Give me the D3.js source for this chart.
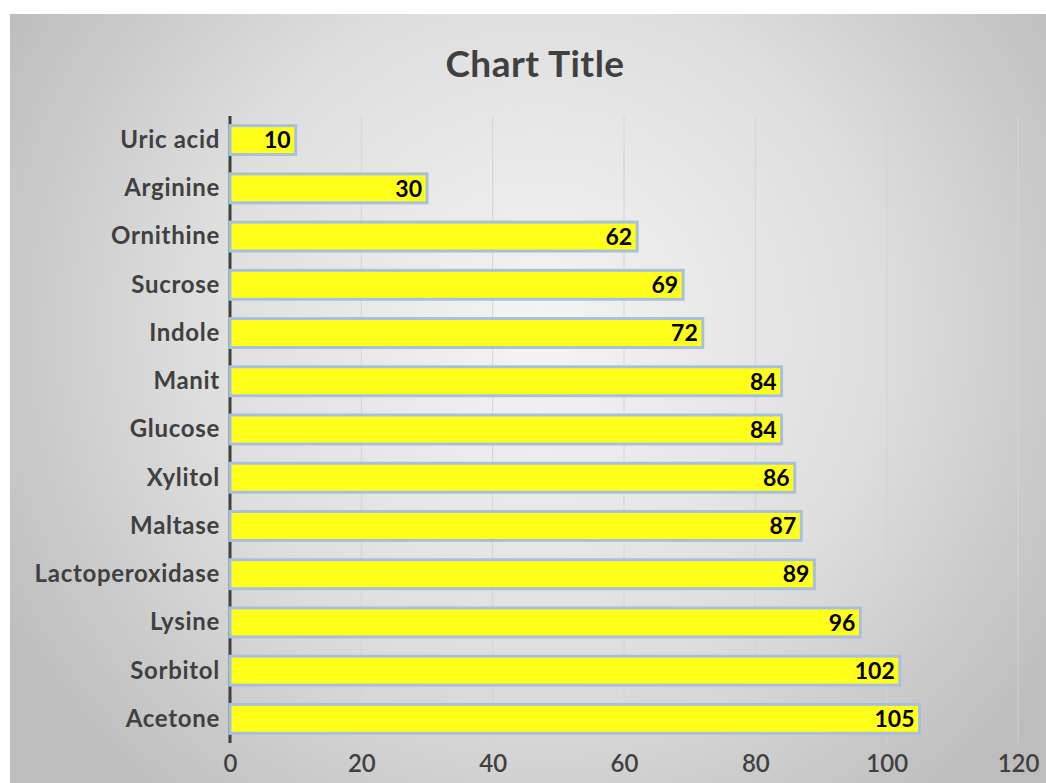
<!DOCTYPE html>
<html><head><meta charset="utf-8">
<script src="https://cdn.jsdelivr.net/npm/d3@7"></script>
<style>html,body{margin:0;padding:0;background:#fff;}svg{display:block;}</style>
</head><body>
<script>
const categories = ["Uric acid","Arginine","Ornithine","Sucrose","Indole","Manit","Glucose","Xylitol","Maltase","Lactoperoxidase","Lysine","Sorbitol","Acetone"];
const values = [10,30,62,69,72,84,84,86,87,89,96,102,105];
const xTicks = [0,20,40,60,80,100,120];
const title = "Chart Title";

const W = 1046, H = 783;
const svg = d3.select("body").append("svg").attr("width", W).attr("height", H);
const defs = svg.append("defs");
const grad = defs.append("radialGradient").attr("id","bg")
  .attr("gradientUnits","userSpaceOnUse").attr("cx",540).attr("cy",330).attr("r",620);
grad.append("stop").attr("offset","0%").attr("stop-color","#f4f4f4");
grad.append("stop").attr("offset","55%").attr("stop-color","#dedede");
grad.append("stop").attr("offset","100%").attr("stop-color","#bdbdbd");
svg.append("rect").attr("x",10).attr("y",14).attr("width",W-10).attr("height",H-14).attr("fill","url(#bg)");

const font = "Lato, 'Open Sans', sans-serif";
svg.append("text").attr("x",535).attr("y",77).attr("text-anchor","middle")
  .attr("font-family",font).attr("font-weight","bold").attr("font-size",37)
  .attr("letter-spacing","0.5px").attr("fill","#404040").text(title);

const x = d3.scaleLinear().domain([0,120]).range([230,1018]);
const y = d3.scaleBand().domain(categories).range([116,743]).paddingInner(0.4).paddingOuter(0.2);

// gridlines
svg.append("g").selectAll("line").data(xTicks.filter(d=>d>0)).join("line")
  .attr("x1",d=>x(d)).attr("x2",d=>x(d)).attr("y1",116).attr("y2",743)
  .attr("stroke","#d4d4d4").attr("stroke-width",1);

// y axis line
svg.append("line").attr("x1",230).attr("x2",230).attr("y1",116).attr("y2",743)
  .attr("stroke","#404040").attr("stroke-width",3);

// bars
svg.append("g").selectAll("rect").data(values).join("rect")
  .attr("x",x(0)).attr("y",(d,i)=>y(categories[i]))
  .attr("width",d=>x(d)-x(0)).attr("height",y.bandwidth())
  .attr("fill","#ffff1a").attr("stroke","#a8c0de").attr("stroke-width",3);

// data labels
svg.append("g").selectAll("text").data(values).join("text")
  .attr("x",d=>x(d)-5).attr("y",(d,i)=>y(categories[i])+y.bandwidth()/2)
  .attr("dy","0.36em").attr("text-anchor","end")
  .attr("font-family",font).attr("font-weight","bold").attr("font-size",23).attr("fill","#000")
  .text(d=>d);

// category labels
const yAxis = d3.axisLeft(y).tickSize(0).tickPadding(10);
const ya = svg.append("g").attr("transform","translate(230,0)").call(yAxis);
ya.select(".domain").remove();
ya.selectAll("text").attr("font-family",font).attr("font-weight","bold").attr("font-size",24)
  .attr("letter-spacing","0.7px").attr("dy","0.33em").attr("fill","#404040");

// x axis labels
const xAxis = d3.axisBottom(x).tickValues(xTicks).tickSize(0).tickPadding(9);
const xa = svg.append("g").attr("transform","translate(0,746)").call(xAxis);
xa.select(".domain").remove();
xa.selectAll("text").attr("font-family",font).attr("font-weight",600).attr("font-size",24).attr("fill","#404040");
</script>
</body></html>
